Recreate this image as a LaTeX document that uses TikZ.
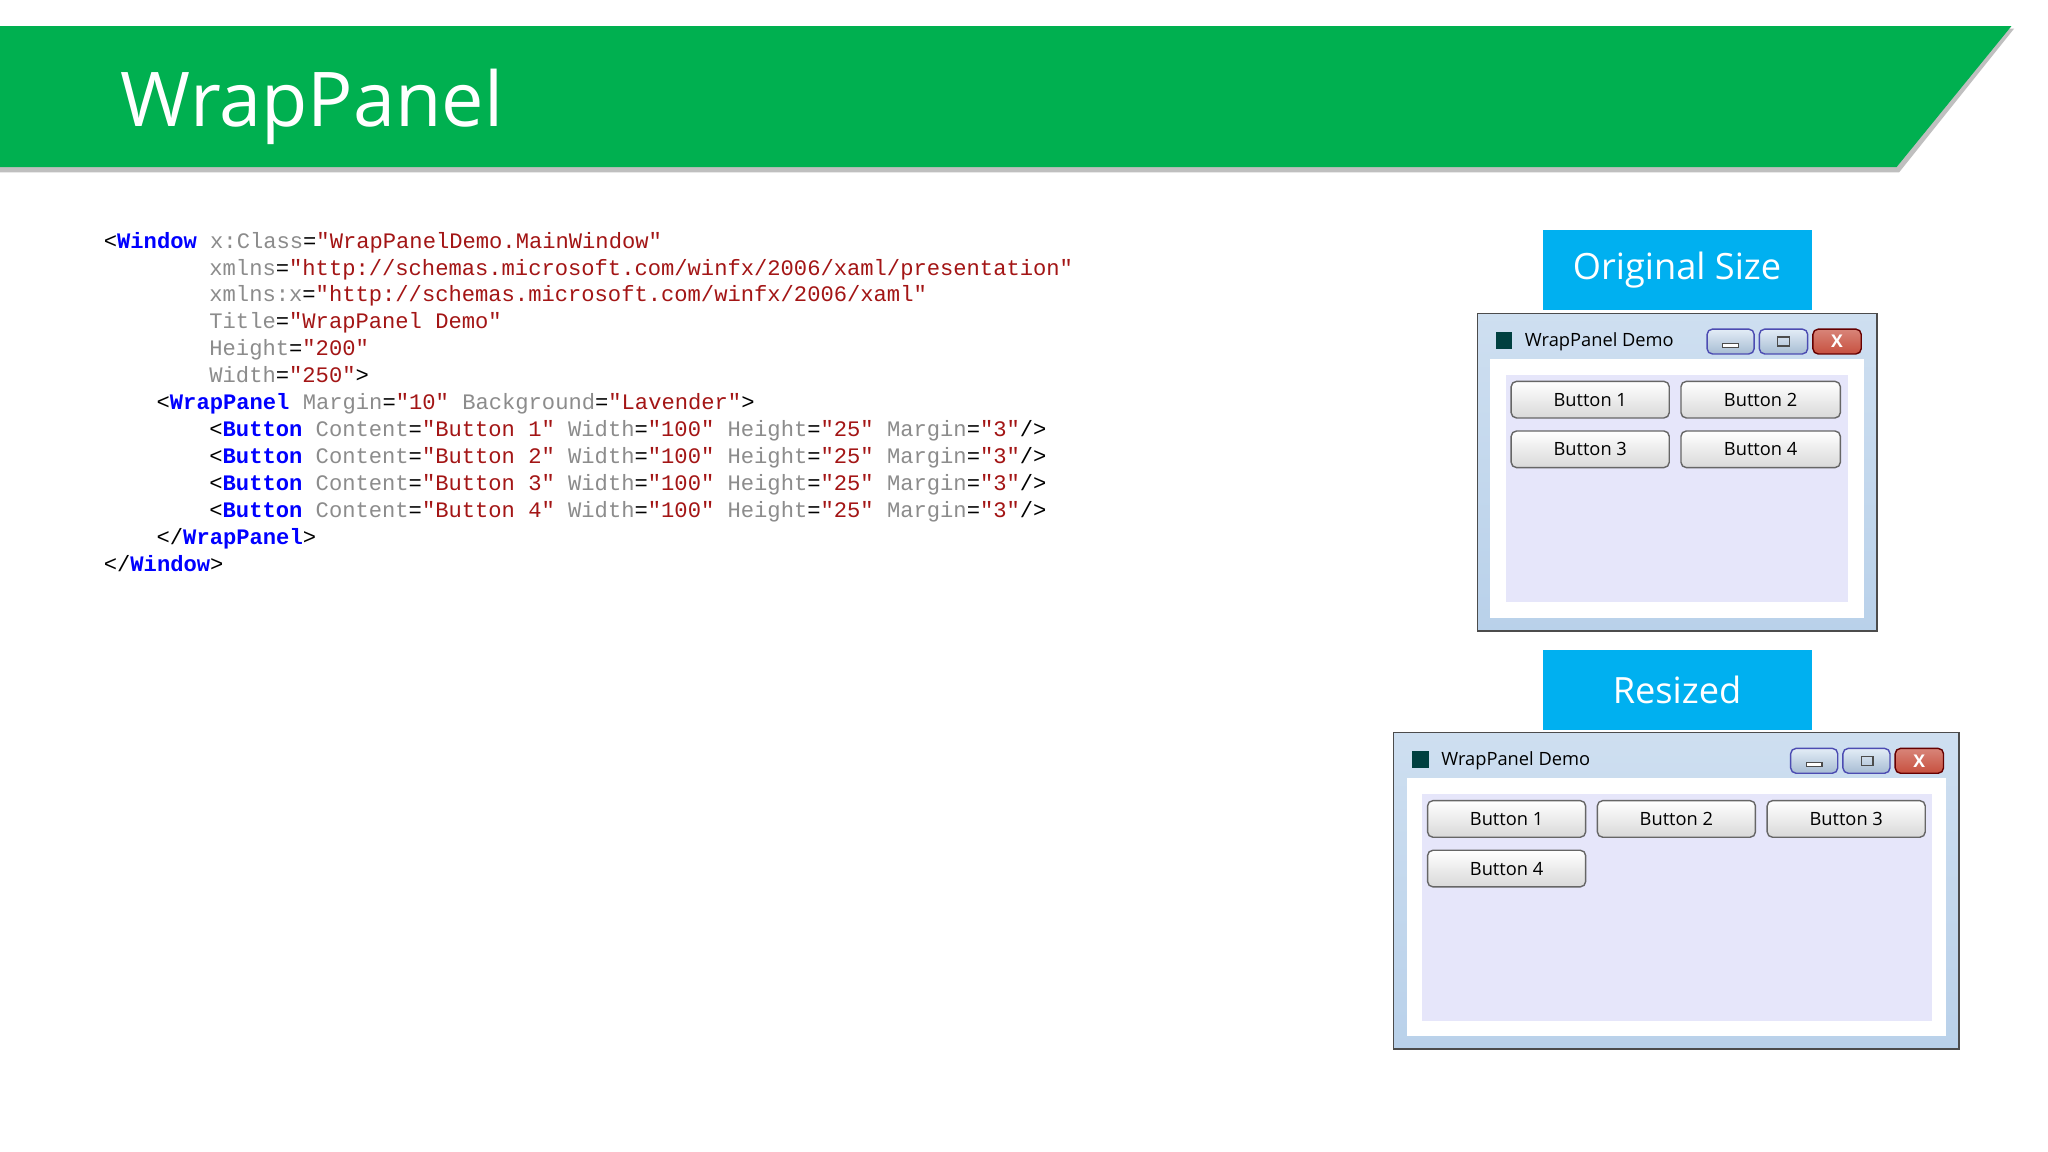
\documentclass[tikz,border=0pt]{standalone}
\usepackage{fontspec}
\setmainfont{Open Sans}
\newfontfamily\codefont{Liberation Mono}
\usetikzlibrary{shapes.geometric}
\definecolor{bannergreen}{HTML}{00B050}
\definecolor{labcyan}{HTML}{00B0F0}
\definecolor{tagblue}{HTML}{0000FF}
\definecolor{attgray}{HTML}{8C8C8C}
\definecolor{valred}{HTML}{A31515}
\definecolor{frameblue}{HTML}{B9D1EA}
\definecolor{lav}{HTML}{E6E6FA}
\definecolor{closered}{HTML}{C7503F}
\newcommand{\tg}[1]{\textcolor{tagblue}{\bfseries #1}}
\newcommand{\atr}[1]{\textcolor{attgray}{#1}}
\newcommand{\vl}[1]{\textcolor{valred}{#1}}
\tikzset{
 codeline/.style={anchor=base west,inner sep=0pt,font=\codefont\fontsize{6.3pt}{7pt}\selectfont},
 labelbox/.style={fill=labcyan,text=white,font=\fontsize{10.3pt}{12pt}\selectfont,inner sep=0pt},
 winbtn/.style={draw=gray!80!black,rounded corners=1.5pt,top color=white,bottom color=black!15,font=\fontsize{5.2pt}{6pt}\selectfont,inner sep=0pt},
 capbtn/.style={draw=gray!60!blue,rounded corners=1.5pt,top color=frameblue!40,bottom color=frameblue!90!black,inner sep=0pt},
 wintitle/.style={anchor=west,font=\fontsize{5.2pt}{6pt}\selectfont,inner sep=0pt}
}
\begin{document}
\begin{tikzpicture}[x=0.01306cm,y=-0.01306cm]
\useasboundingbox (0,0) rectangle (1568,882);
\fill[white] (0,0) rectangle (1568,882);
% banner
\fill[black!25] (0,22) -- (1542,22) -- (1454,132) -- (0,132) -- cycle;
\fill[bannergreen] (0,20) -- (1540,20) -- (1452,128) -- (0,128) -- cycle;
\node[anchor=base west,text=white,inner sep=0pt,font=\fontsize{21.5pt}{26pt}\selectfont] (title) at (92,97) {WrapPanel};
% code
\def\cx#1{79+#1*10.1}
\node[codeline] (l1) at ({\cx{0}},190) {<\tg{Window} \atr{x:Class}=\vl{"WrapPanelDemo.MainWindow"}};
\node[codeline] (l2) at ({\cx{8}},210.6) {\atr{xmlns}=\vl{"http://schemas.microsoft.com/winfx/2006/xaml/presentation"}};
\node[codeline] (l3) at ({\cx{8}},231.2) {\atr{xmlns:x}=\vl{"http://schemas.microsoft.com/winfx/2006/xaml"}};
\node[codeline] (l4) at ({\cx{8}},251.8) {\atr{Title}=\vl{"WrapPanel Demo"}};
\node[codeline] (l5) at ({\cx{8}},272.4) {\atr{Height}=\vl{"200"}};
\node[codeline] (l6) at ({\cx{8}},293) {\atr{Width}=\vl{"250"}>};
\node[codeline] (l7) at ({\cx{4}},313.6) {<\tg{WrapPanel} \atr{Margin}=\vl{"10"} \atr{Background}=\vl{"Lavender"}>};
\node[codeline] (l8) at ({\cx{8}},334.2) {<\tg{Button} \atr{Content}=\vl{"Button 1"} \atr{Width}=\vl{"100"} \atr{Height}=\vl{"25"} \atr{Margin}=\vl{"3"}/>};
\node[codeline] (l9) at ({\cx{8}},354.8) {<\tg{Button} \atr{Content}=\vl{"Button 2"} \atr{Width}=\vl{"100"} \atr{Height}=\vl{"25"} \atr{Margin}=\vl{"3"}/>};
\node[codeline] (l10) at ({\cx{8}},375.4) {<\tg{Button} \atr{Content}=\vl{"Button 3"} \atr{Width}=\vl{"100"} \atr{Height}=\vl{"25"} \atr{Margin}=\vl{"3"}/>};
\node[codeline] (l11) at ({\cx{8}},396) {<\tg{Button} \atr{Content}=\vl{"Button 4"} \atr{Width}=\vl{"100"} \atr{Height}=\vl{"25"} \atr{Margin}=\vl{"3"}/>};
\node[codeline] (l12) at ({\cx{4}},416.6) {</\tg{WrapPanel}>};
\node[codeline] (l13) at ({\cx{0}},437.2) {</\tg{Window}>};
% labels
\node[labelbox,minimum width=206*0.01306cm,minimum height=61*0.01306cm] (lab1) at (1284,206.5) {Original Size};
\node[labelbox,minimum width=206*0.01306cm,minimum height=61*0.01306cm] (lab2) at (1284,528.5) {Resized};
% window 1
\draw[black!70,top color=frameblue!70!white,bottom color=frameblue] (1131,240) rectangle (1437,483);
\fill[white] (1141,275) rectangle (1427,473);
\fill[lav] (1153,287) rectangle (1415,461);
\fill[black!50!teal] (1145,254) rectangle (1158,267);
\node[wintitle] (t1) at (1167,261.5) {WrapPanel Demo};
\node[capbtn,minimum width=36*0.01306cm,minimum height=19*0.01306cm] (mn1) at (1325,261.5) {};
\node[capbtn,minimum width=37*0.01306cm,minimum height=19*0.01306cm] (mx1) at (1365.5,261.5) {};
\node[draw=red!40!black,rounded corners=1.5pt,top color=closered!70,bottom color=closered,minimum width=37*0.01306cm,minimum height=19*0.01306cm,inner sep=0pt,text=white,font=\bfseries\fontsize{5pt}{6pt}\selectfont] (cl1) at (1406.5,261.5) {X};
\draw[black!70,fill=white] (1319,263) rectangle (1331,266);
\draw[black!70] (1361,258) rectangle (1370,265);
\node[winbtn,minimum width=121*0.01306cm,minimum height=28*0.01306cm] (a1) at (1217.5,306) {Button 1};
\node[winbtn,minimum width=122*0.01306cm,minimum height=28*0.01306cm] (a2) at (1348,306) {Button 2};
\node[winbtn,minimum width=121*0.01306cm,minimum height=28*0.01306cm] (a3) at (1217.5,344) {Button 3};
\node[winbtn,minimum width=122*0.01306cm,minimum height=28*0.01306cm] (a4) at (1348,344) {Button 4};
% window 2
\draw[black!70,top color=frameblue!70!white,bottom color=frameblue] (1067,561) rectangle (1500,803);
\fill[white] (1077,596) rectangle (1490,793);
\fill[lav] (1089,608) rectangle (1479,782);
\fill[black!50!teal] (1081,575) rectangle (1094,588);
\node[wintitle] (t2) at (1103,582.5) {WrapPanel Demo};
\node[capbtn,minimum width=36*0.01306cm,minimum height=19*0.01306cm] (mn2) at (1389,582.5) {};
\node[capbtn,minimum width=36*0.01306cm,minimum height=19*0.01306cm] (mx2) at (1429,582.5) {};
\node[draw=red!40!black,rounded corners=1.5pt,top color=closered!70,bottom color=closered,minimum width=37*0.01306cm,minimum height=19*0.01306cm,inner sep=0pt,text=white,font=\bfseries\fontsize{5pt}{6pt}\selectfont] (cl2) at (1469.5,582.5) {X};
\draw[black!70,fill=white] (1383,584) rectangle (1395,587);
\draw[black!70] (1425,579) rectangle (1434,586);
\node[winbtn,minimum width=121*0.01306cm,minimum height=28*0.01306cm] (b1) at (1153.5,627) {Button 1};
\node[winbtn,minimum width=121*0.01306cm,minimum height=28*0.01306cm] (b2) at (1283.5,627) {Button 2};
\node[winbtn,minimum width=121*0.01306cm,minimum height=28*0.01306cm] (b3) at (1413.5,627) {Button 3};
\node[winbtn,minimum width=121*0.01306cm,minimum height=28*0.01306cm] (b4) at (1153.5,665) {Button 4};
\end{tikzpicture}
\end{document}
